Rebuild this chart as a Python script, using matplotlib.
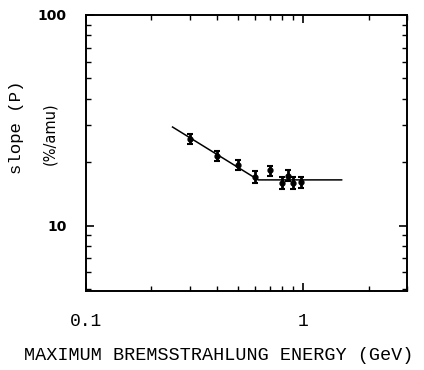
import numpy as np
from matplotlib import pyplot as plt

# measured points
energy = [0.30, 0.40, 0.50, 0.60, 0.70, 0.80, 0.85, 0.90, 0.98]
slope = [25.8, 21.5, 19.5, 17.0, 18.3, 16.0, 17.3, 16.0, 16.1]
slope_err = [1.4, 1.2, 1.1, 1.1, 1.0, 1.0, 1.0, 1.0, 1.0]

# fitted curve (kink)
fit_x = [0.25, 0.62, 1.5]
fit_y = [29.4, 16.5, 16.5]

mono = "Liberation Mono"

fig = plt.figure(figsize=(4.24, 3.70), dpi=100)
ax = fig.add_axes([0.203, 0.2135, 0.757, 0.746])

ax.plot(fit_x, fit_y, color="black", lw=1.1)
ax.errorbar(energy, slope, yerr=slope_err, fmt="o", color="black",
            ms=3.5, capsize=2.5, elinewidth=2, capthick=1.5)

ax.set_xscale("log")
ax.set_yscale("log")
ax.set_xlim(0.1, 3)
ax.set_ylim(4.9, 100)

for s in ax.spines.values():
    s.set_linewidth(1.4)

ax.tick_params(which="both", direction="in", top=True, right=True)
ax.tick_params(which="major", length=6, width=1.2)
ax.tick_params(which="minor", length=3.5, width=1.0)

ax.set_xticks([0.1, 1])
ax.set_xticklabels(["0.1", "1"], family=mono, fontsize=13)
ax.tick_params(axis="x", which="major", pad=16)
ax.set_yticks([10, 100])
ax.set_yticklabels(["10", "100"], fontsize=10, fontweight="bold")
ax.tick_params(axis="y", which="major", pad=14)
ax.yaxis.set_minor_formatter(plt.NullFormatter())
ax.xaxis.set_minor_formatter(plt.NullFormatter())

fig.text(0.04, 0.657, "slope (P)", rotation=90, ha="center", va="center",
         family=mono, fontsize=12.5)
fig.text(0.118, 0.64, "(%/amu)", rotation=90, ha="center", va="center",
         fontsize=10.5)
fig.text(0.515, 0.04, "MAXIMUM BREMSSTRAHLUNG ENERGY (GeV)", ha="center",
         va="center", family=mono, fontsize=13.3)

fig.savefig("out.png", dpi=100)
